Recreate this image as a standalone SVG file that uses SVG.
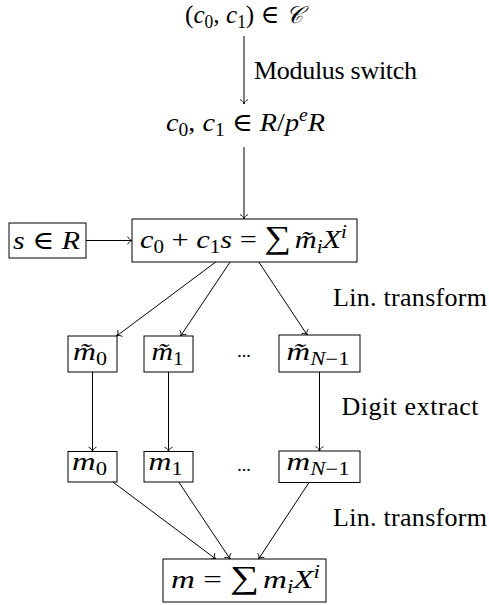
<svg xmlns="http://www.w3.org/2000/svg" width="489" height="605" viewBox="0 0 489 605">
<style>
.t{font-family:"Liberation Serif","DejaVu Serif",serif;font-size:26px;fill:#000}
.i{font-style:italic}
.s{font-size:18px}
.sum{font-size:32px}
.cal{font-family:"DejaVu Serif","Liberation Serif",serif;font-style:italic;font-size:24px}
.dots{font-family:"Liberation Serif",serif;font-size:18px;text-anchor:middle}
.box{fill:#fff;stroke:#000;stroke-width:1}
.c{fill:none;stroke:#000;stroke-width:1}
</style>
<defs>
<marker id="arr" viewBox="-6 -5 8 10" refX="0" refY="0" markerWidth="8" markerHeight="10" orient="auto" markerUnits="userSpaceOnUse" overflow="visible">
<path d="M-4.2,-3.6 C-3.6,-1.4 -1.2,-0.3 0,0 C-1.2,0.3 -3.6,1.4 -4.2,3.6" fill="none" stroke="#000" stroke-width="0.9" stroke-linecap="round"/>
</marker>
</defs>
<g id="connectors" class="c" marker-end="url(#arr)">
<path d="M244,36 L244,104"/>
<path d="M244,147 L244,219"/>
<path d="M86,240.5 L132,240.5"/>
<path d="M215.7,262 L116.6,336"/>
<path d="M230.1,262 L180.6,336"/>
<path d="M258.8,262 L307.2,335"/>
<path d="M92.5,372 L92.5,451.5"/>
<path d="M168.5,372 L168.5,451.5"/>
<path d="M319.5,372 L319.5,451"/>
<path d="M112.9,482 L215.8,559"/>
<path d="M178.7,482 L230.1,559"/>
<path d="M309,482.5 L258.6,559"/>
</g>
<g id="labels">
<text class="t" x="254" y="78.5" textLength="163" lengthAdjust="spacing">Modulus switch</text>
<text class="t" x="333" y="306" textLength="154" lengthAdjust="spacing">Lin. transform</text>
<text class="t" x="341.5" y="415" textLength="137" lengthAdjust="spacing">Digit extract</text>
<text class="t" x="333" y="526" textLength="154" lengthAdjust="spacing">Lin. transform</text>
</g>
<g id="n-ciphertext">
<text class="t" x="185" y="23" textLength="117" lengthAdjust="spacingAndGlyphs">(<tspan class="i">c</tspan><tspan class="s" dy="5">0</tspan><tspan dy="-5">, </tspan><tspan class="i">c</tspan><tspan class="s" dy="5">1</tspan><tspan dy="-5">) ∈ </tspan><tspan class="cal">𝒞</tspan></text>
</g>
<g id="n-modswitch">
<text class="t" x="166" y="131" textLength="159" lengthAdjust="spacingAndGlyphs"><tspan class="i">c</tspan><tspan class="s" dy="5">0</tspan><tspan dy="-5">, </tspan><tspan class="i">c</tspan><tspan class="s" dy="5">1</tspan><tspan dy="-5"> ∈ </tspan><tspan class="i">R</tspan>/<tspan class="i">p</tspan><tspan class="s i" dy="-10">e</tspan><tspan class="i" dy="10">R</tspan></text>
</g>
<g id="n-key">
<rect class="box" x="9" y="223" width="77" height="35"/>
<text class="t" x="13" y="249" textLength="67" lengthAdjust="spacingAndGlyphs"><tspan class="i">s</tspan> ∈ <tspan class="i">R</tspan></text>
</g>
<g id="n-decrypt">
<rect class="box" x="132" y="219" width="225" height="43"/>
<text class="t" x="140" y="248" textLength="207" lengthAdjust="spacingAndGlyphs"><tspan class="i">c</tspan><tspan class="s" dy="5">0</tspan><tspan dy="-5"> + </tspan><tspan class="i">c</tspan><tspan class="s" dy="5">1</tspan><tspan class="i" dy="-5">s</tspan> = <tspan class="sum">∑</tspan><tspan class="i" dx="3">m̃</tspan><tspan class="s i" dy="5">i</tspan><tspan class="i" dy="-5">X</tspan><tspan class="s i" dy="-10">i</tspan></text>
</g>
<g id="n-mt0">
<rect class="box" x="68" y="336" width="49" height="36"/>
<text class="t" x="73" y="360" textLength="34" lengthAdjust="spacingAndGlyphs"><tspan class="i">m̃</tspan><tspan class="s" dy="5">0</tspan></text>
</g>
<g id="n-mt1">
<rect class="box" x="144" y="336" width="49" height="36"/>
<text class="t" x="151.5" y="360" textLength="32" lengthAdjust="spacingAndGlyphs"><tspan class="i">m̃</tspan><tspan class="s" dy="5">1</tspan></text>
</g>
<g id="n-dots1">
<text class="dots" x="244" y="357">...</text>
</g>
<g id="n-mtN">
<rect class="box" x="279" y="335" width="81" height="37"/>
<text class="t" x="286.5" y="360" textLength="63" lengthAdjust="spacingAndGlyphs"><tspan class="i">m̃</tspan><tspan class="s" dy="5"><tspan class="i">N</tspan>−1</tspan></text>
</g>
<g id="n-m0">
<rect class="box" x="68" y="451.5" width="49" height="30.5"/>
<text class="t" x="72" y="470" textLength="35" lengthAdjust="spacingAndGlyphs"><tspan class="i">m</tspan><tspan class="s" dy="5">0</tspan></text>
</g>
<g id="n-m1">
<rect class="box" x="144" y="451.5" width="49" height="30.5"/>
<text class="t" x="148.5" y="470" textLength="34" lengthAdjust="spacingAndGlyphs"><tspan class="i">m</tspan><tspan class="s" dy="5">1</tspan></text>
</g>
<g id="n-dots2">
<text class="dots" x="244" y="471">...</text>
</g>
<g id="n-mN">
<rect class="box" x="279" y="451" width="81" height="31.5"/>
<text class="t" x="286.5" y="470" textLength="63" lengthAdjust="spacingAndGlyphs"><tspan class="i">m</tspan><tspan class="s" dy="5"><tspan class="i">N</tspan>−1</tspan></text>
</g>
<g id="n-result">
<rect class="box" x="163" y="559" width="163" height="43"/>
<text class="t" x="171" y="588" textLength="149" lengthAdjust="spacingAndGlyphs"><tspan class="i">m</tspan> = <tspan class="sum">∑</tspan><tspan class="i" dx="3">m</tspan><tspan class="s i" dy="5">i</tspan><tspan class="i" dy="-5">X</tspan><tspan class="s i" dy="-10">i</tspan></text>
</g>
</svg>
